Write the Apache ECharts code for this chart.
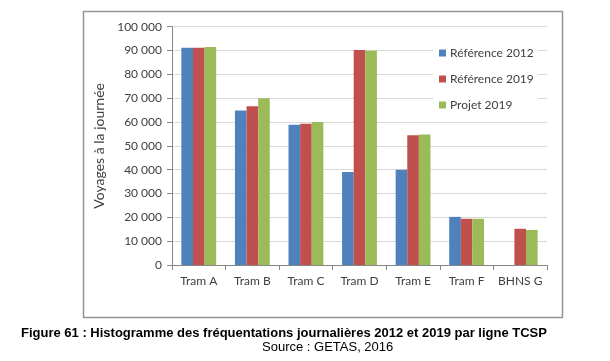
<!DOCTYPE html>
<html>
<head>
<meta charset="utf-8">
<script src="https://cdn.jsdelivr.net/npm/echarts@6/dist/echarts.min.js"></script>
<style>html,body{margin:0;padding:0;background:#fff}#c{width:610px;height:361px}</style>
</head>
<body>
<div id="c"></div>
<script>
const categories = ['Tram A','Tram B','Tram C','Tram D','Tram E','Tram F','BHNS G'];
const ref2012 = [91200, 64800, 58900, 39000, 40000, 20200, null];
const ref2019 = [91200, 66600, 59300, 90200, 54400, 19400, 15200];
const projet2019 = [91500, 70000, 60000, 89900, 54800, 19400, 14700];
const seriesNames = ['Référence 2012','Référence 2019','Projet 2019'];
const yTicks = {min: 0, max: 100000, interval: 10000};
const captionText = 'Figure 61 : Histogramme des fréquentations journalières 2012 et 2019 par ligne TCSP';
const sourceText = 'Source : GETAS, 2016';

const chart = echarts.init(document.getElementById('c'), null, {renderer: 'canvas'});
const font = 'Lato, "Open Sans", sans-serif';
function fmt(v){ return String(v).replace(/\B(?=(\d{3})+(?!\d))/g, ' '); }
chart.setOption({
  animation: false,
  backgroundColor: '#fff',
  graphic: [{
    type: 'rect', z: -10, silent: true,
    shape: {x: 83.5, y: 11.5, width: 479, height: 306},
    style: {fill: '#fff', stroke: '#959595', lineWidth: 1.5}
  }],
  title: [{
    text: captionText, left: 16, top: 322,
    textStyle: {fontFamily: '"Liberation Sans", Arial, sans-serif', fontWeight: 'bold', fontSize: 13, color: '#000'}
  }, {
    text: sourceText, left: 257, top: 336,
    textStyle: {fontFamily: '"Liberation Sans", Arial, sans-serif', fontWeight: 'normal', fontSize: 13, color: '#000'}
  }],
  legend: {
    orient: 'vertical', left: 433, top: 41,
    data: seriesNames,
    itemWidth: 7, itemHeight: 7, itemGap: 10,
    backgroundColor: '#fff', padding: [4, 4, 4, 6],
    icon: 'rect',
    textStyle: {fontFamily: font, fontSize: 12, color: '#404040', lineHeight: 16, padding: [0,0,0,-1]}
  },
  grid: {left: 172, right: 63, top: 26.7, bottom: 96, containLabel: false},
  xAxis: {
    type: 'category', data: categories,
    axisLine: {lineStyle: {color: '#868686', width: 1}},
    axisTick: {show: true, length: 5, lineStyle: {color: '#868686'}},
    axisLabel: {interval: 0, fontFamily: font, fontSize: 12, color: '#404040', margin: 10}
  },
  yAxis: {
    type: 'value', min: yTicks.min, max: yTicks.max, interval: yTicks.interval,
    name: 'Voyages à la journée', nameLocation: 'middle', nameRotate: 90, nameGap: 64,
    nameTextStyle: {fontFamily: font, fontSize: 14, color: '#404040'},
    axisLine: {show: true, lineStyle: {color: '#868686', width: 1}},
    axisTick: {show: true, length: 5, lineStyle: {color: '#868686'}},
    axisLabel: {fontFamily: font, fontSize: 12, color: '#404040', margin: 10, formatter: fmt},
    splitLine: {lineStyle: {color: '#d9d9d9', width: 1}}
  },
  series: [
    {name: seriesNames[0], type: 'bar', data: ref2012, itemStyle: {color: '#4f81bd'}, barGap: '0%', barCategoryGap: '35%'},
    {name: seriesNames[1], type: 'bar', data: ref2019, itemStyle: {color: '#c0504d'}, barGap: '0%', barCategoryGap: '35%'},
    {name: seriesNames[2], type: 'bar', data: projet2019, itemStyle: {color: '#9bbb59'}, barGap: '0%', barCategoryGap: '35%'}
  ]
});
</script>
</body>
</html>
